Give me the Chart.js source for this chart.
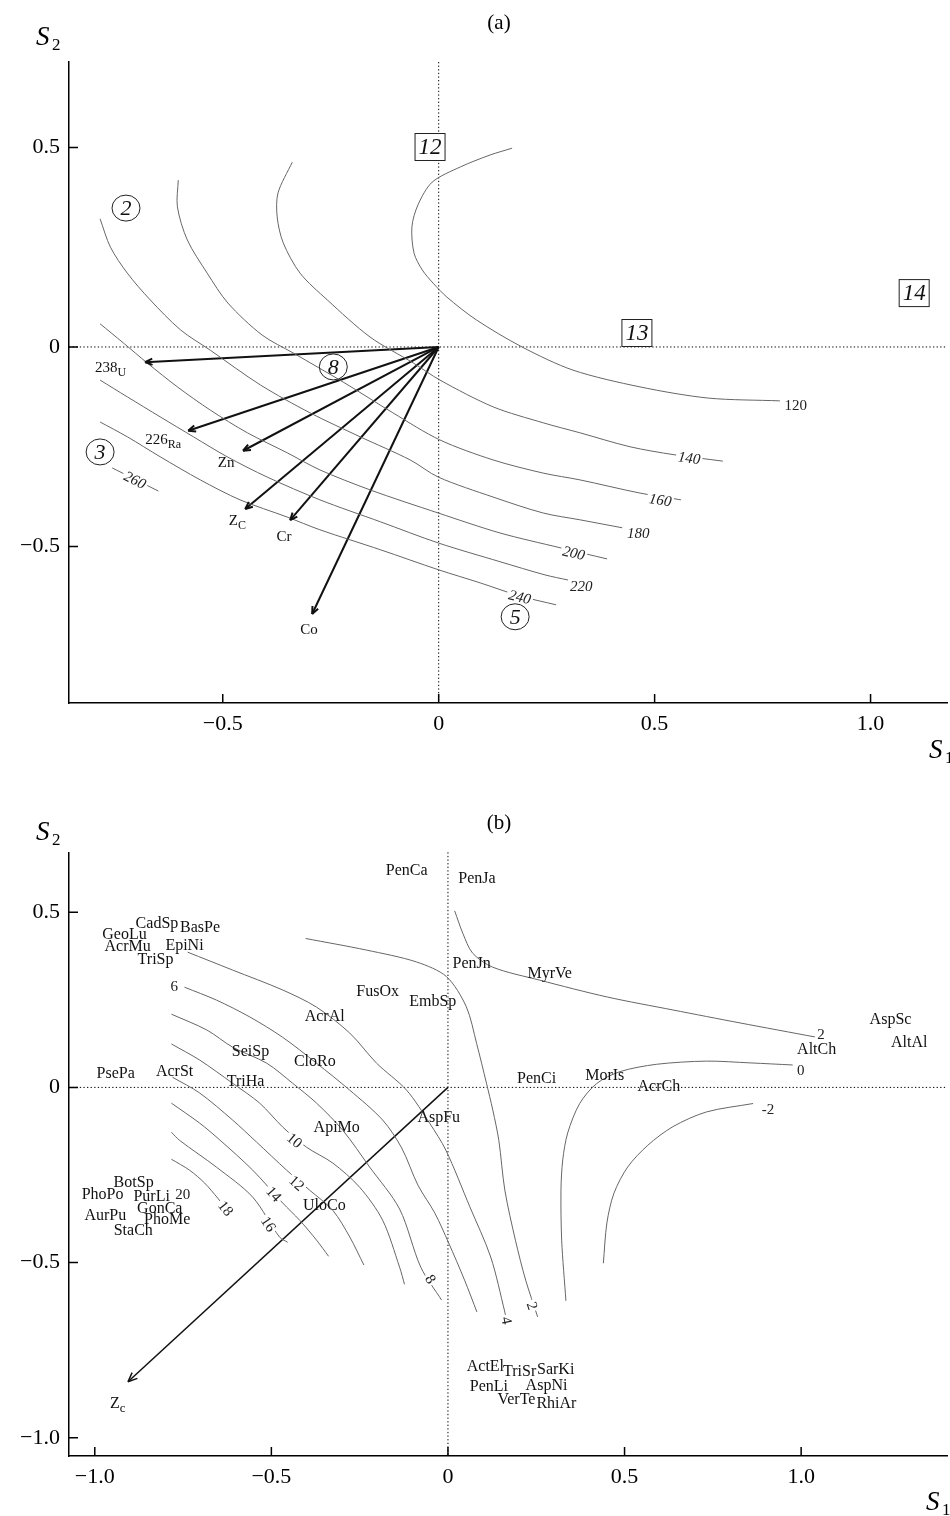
<!DOCTYPE html>
<html>
<head>
<meta charset="utf-8">
<script src="https://cdn.jsdelivr.net/npm/chart.js@4.4.0/dist/chart.umd.min.js"></script>
<style>
  body { margin: 0; background: #fff; width: 950px; height: 1516px; overflow: hidden; position: relative; }
  .wrap { position: absolute; left: 0; width: 950px; }
  #wa { top: 0; height: 780px; }
  #wb { top: 780px; height: 736px; }
</style>
</head>
<body>
<div class="wrap" id="wa"><canvas id="chartA"></canvas></div>
<div class="wrap" id="wb"><canvas id="chartB"></canvas></div>
<script>
// ---------- panel (a): S1/S2 plane, contour levels 120..260 ----------
const xTicksA = [-0.5, 0, 0.5, 1.0];
const xTickLabelsA = ['\u22120.5', '0', '0.5', '1.0'];
const yTicksA = [-0.5, 0, 0.5];
const yTickLabelsA = ['\u22120.5', '0', '0.5'];

const contoursA = [
  // 120
  [[0.170,0.498],[0.119,0.481],[0.050,0.451],[-0.015,0.413],[-0.048,0.356],[-0.062,0.301],[-0.057,0.235],[-0.038,0.193],[-0.013,0.160],[0.019,0.125],[0.087,0.068],[0.193,0.000],[0.311,-0.058],[0.466,-0.100],[0.624,-0.128],[0.790,-0.135]],
  // 140
  [[-0.339,0.463],[-0.372,0.386],[-0.374,0.326],[-0.360,0.261],[-0.321,0.185],[-0.258,0.118],[-0.159,0.025],[-0.059,-0.040],[0.003,-0.083],[0.126,-0.150],[0.242,-0.190],[0.327,-0.215],[0.443,-0.250],[0.545,-0.270],[0.658,-0.286]],
  // 160
  [[-0.603,0.418],[-0.605,0.351],[-0.582,0.268],[-0.536,0.185],[-0.488,0.110],[-0.409,0.030],[-0.337,-0.015],[-0.221,-0.088],[-0.106,-0.165],[0.003,-0.233],[0.126,-0.283],[0.242,-0.316],[0.327,-0.333],[0.466,-0.366],[0.561,-0.383]],
  // 180
  [[-0.784,0.321],[-0.760,0.250],[-0.721,0.185],[-0.668,0.118],[-0.598,0.043],[-0.529,-0.008],[-0.413,-0.095],[-0.298,-0.165],[-0.182,-0.225],[-0.066,-0.283],[-0.001,-0.326],[0.126,-0.376],[0.242,-0.416],[0.327,-0.433],[0.425,-0.453]],
  // 200
  [[-0.784,0.058],[-0.730,0.010],[-0.675,-0.040],[-0.605,-0.100],[-0.529,-0.158],[-0.443,-0.215],[-0.351,-0.265],[-0.275,-0.308],[-0.159,-0.358],[-0.001,-0.416],[0.142,-0.466],[0.281,-0.503],[0.390,-0.531]],
  // 220
  [[-0.784,-0.083],[-0.721,-0.125],[-0.645,-0.175],[-0.568,-0.225],[-0.490,-0.275],[-0.397,-0.326],[-0.275,-0.383],[-0.135,-0.438],[-0.001,-0.491],[0.142,-0.538],[0.246,-0.571],[0.300,-0.584]],
  // 240
  [[-0.784,-0.188],[-0.721,-0.225],[-0.645,-0.275],[-0.552,-0.333],[-0.460,-0.383],[-0.351,-0.426],[-0.275,-0.458],[-0.135,-0.508],[-0.001,-0.558],[0.096,-0.591],[0.188,-0.624],[0.272,-0.646]],
  // 260
  [[-0.756,-0.303],[-0.649,-0.361]]
];
const contourLabelTextA = ['120', '140', '160', '180', '200', '220', '240', '260'];
const contourLabelXA = [0.827, 0.580, 0.513, 0.462, 0.313, 0.330, 0.188, -0.703];
const contourLabelYA = [-0.145, -0.278, -0.383, -0.466, -0.516, -0.599, -0.626, -0.333];

const arrowTipsA = [[-0.680,-0.038],[-0.580,-0.210],[-0.453,-0.260],[-0.448,-0.406],[-0.344,-0.434],[-0.293,-0.669]];
const arrowNamesA = [['238','U'],['226','Ra'],['Zn',''],['Z','C'],['Cr',''],['Co','']];
const arrowLabelXA = [-0.760, -0.638, -0.492, -0.466, -0.358, -0.300];
const arrowLabelYA = [-0.053, -0.233, -0.291, -0.436, -0.476, -0.709];

const circledTextA = ['2', '8', '3', '5'];
const circledXA = [-0.724, -0.244, -0.784, 0.177];
const circledYA = [0.348, -0.050, -0.263, -0.676];
const boxedTextA = ['12', '13', '14'];
const boxedXA = [-0.020, 0.459, 1.101];
const boxedYA = [0.501, 0.035, 0.135];

// ---------- panel (b): species, contour levels -2..20 ----------
const xTicksB = [-1.0, -0.5, 0, 0.5, 1.0];
const xTickLabelsB = ['\u22121.0', '\u22120.5', '0', '0.5', '1.0'];
const yTicksB = [-1.0, -0.5, 0, 0.5];
const yTickLabelsB = ['\u22121.0', '\u22120.5', '0', '0.5'];

const contoursB = [
  // 2 (upper right)
  [[0.019,0.504],[0.042,0.440],[0.070,0.383],[0.127,0.343],[0.260,0.306],[0.451,0.258],[0.637,0.221],[0.827,0.184],[1.039,0.144]],
  // 2 (middle)
  [[-0.403,0.425],[-0.231,0.392],[-0.089,0.358],[-0.004,0.316],[0.052,0.230],[0.081,0.126],[0.109,0.012],[0.127,-0.065],[0.144,-0.151],[0.161,-0.293],[0.191,-0.436],[0.220,-0.550],[0.254,-0.655]],
  // 0
  [[0.976,0.064],[0.855,0.070],[0.732,0.075],[0.591,0.066],[0.487,0.045],[0.421,0.011],[0.373,-0.046],[0.339,-0.130],[0.325,-0.207],[0.320,-0.293],[0.322,-0.436],[0.334,-0.609]],
  // -2
  [[0.864,-0.046],[0.732,-0.070],[0.637,-0.112],[0.566,-0.165],[0.509,-0.227],[0.470,-0.302],[0.450,-0.387],[0.440,-0.502]],
  // 4
  [[-0.737,0.386],[-0.610,0.335],[-0.468,0.278],[-0.372,0.229],[-0.278,0.155],[-0.202,0.069],[-0.117,-0.008],[-0.052,-0.102],[-0.006,-0.179],[0.062,-0.341],[0.121,-0.484],[0.161,-0.641],[0.167,-0.671]],
  // 6
  [[-0.746,0.286],[-0.655,0.249],[-0.561,0.201],[-0.468,0.143],[-0.372,0.069],[-0.278,-0.008],[-0.185,-0.093],[-0.131,-0.173],[-0.085,-0.279],[-0.037,-0.359],[0.002,-0.444],[0.047,-0.550],[0.082,-0.641]],
  // 8
  [[-0.783,0.209],[-0.683,0.164],[-0.610,0.115],[-0.513,0.069],[-0.440,0.012],[-0.372,-0.045],[-0.298,-0.122],[-0.222,-0.227],[-0.137,-0.347],[-0.077,-0.513],[-0.018,-0.607]],
  // 10
  [[-0.783,0.124],[-0.703,0.078],[-0.610,0.012],[-0.533,-0.045],[-0.468,-0.113],[-0.400,-0.171],[-0.326,-0.216],[-0.250,-0.285],[-0.185,-0.379],[-0.137,-0.513],[-0.123,-0.562]],
  // 12
  [[-0.780,0.029],[-0.703,-0.016],[-0.610,-0.093],[-0.542,-0.156],[-0.457,-0.236],[-0.392,-0.293],[-0.326,-0.351],[-0.278,-0.427],[-0.238,-0.507]],
  // 14
  [[-0.783,-0.045],[-0.703,-0.102],[-0.646,-0.150],[-0.553,-0.236],[-0.468,-0.330],[-0.420,-0.379],[-0.372,-0.436],[-0.338,-0.482]],
  // 16
  [[-0.783,-0.128],[-0.760,-0.151],[-0.655,-0.228],[-0.553,-0.313],[-0.477,-0.427],[-0.454,-0.442]],
  // 18
  [[-0.783,-0.205],[-0.732,-0.236],[-0.689,-0.273],[-0.652,-0.316],[-0.618,-0.359]]
];
const contourLabelTextB = ['2', '2', '0', '-2', '4', '6', '8', '10', '12', '14', '16', '18', '20'];
const contourLabelXB = [1.056, 0.239, 0.999, 0.906, 0.167, -0.775, -0.049, -0.434, -0.428, -0.493, -0.508, -0.629, -0.751];
const contourLabelYB = [0.152, -0.623, 0.049, -0.062, -0.665, 0.288, -0.547, -0.151, -0.273, -0.304, -0.390, -0.345, -0.304];

const speciesNames = ['PenCa','PenJa','CadSp','BasPe','GeoLu','AcrMu','EpiNi','TriSp','PenJn','MyrVe','FusOx','EmbSp','AcrAl','SeiSp','CloRo','PsePa','AcrSt','TriHa','PenCi','MorIs','AcrCh','AspFu','ApiMo','AltCh','AspSc','AltAl','BotSp','PhoPo','PurLi','GonCa','AurPu','PhoMe','StaCh','UloCo','ActEl','TriSr','SarKi','PenLi','AspNi','VerTe','RhiAr'];
const speciesS1 = [-0.117,0.082,-0.824,-0.702,-0.916,-0.907,-0.746,-0.828,0.067,0.288,-0.199,-0.043,-0.349,-0.559,-0.377,-0.941,-0.774,-0.573,0.251,0.444,0.597,-0.026,-0.315,1.044,1.253,1.306,-0.890,-0.978,-0.839,-0.816,-0.970,-0.795,-0.891,-0.350,0.106,0.203,0.305,0.116,0.279,0.194,0.307];
const speciesS2 = [0.617,0.594,0.466,0.455,0.435,0.400,0.403,0.363,0.352,0.323,0.273,0.243,0.201,0.101,0.072,0.038,0.044,0.015,0.025,0.033,0.002,-0.088,-0.116,0.106,0.192,0.126,-0.272,-0.307,-0.313,-0.347,-0.366,-0.379,-0.410,-0.338,-0.798,-0.813,-0.807,-0.854,-0.852,-0.892,-0.904];

const arrowTipsB = [[-0.906,-0.840]];
const arrowNamesB = [['Z','c']];
const arrowLabelXB = [-0.935];
const arrowLabelYB = [-0.902];

// ---------- drawing helpers ----------
const SERIF = '"Liberation Serif", "DejaVu Serif", serif';

function drawSub(ctx, main, sub, cx, cy, size) {
  ctx.font = size + 'px ' + SERIF;
  const w1 = ctx.measureText(main).width;
  ctx.font = (size * 0.8) + 'px ' + SERIF;
  const w2 = sub ? ctx.measureText(sub).width : 0;
  const x = cx - (w1 + w2) / 2;
  ctx.textAlign = 'left';
  ctx.textBaseline = 'middle';
  ctx.font = size + 'px ' + SERIF;
  ctx.fillText(main, x, cy);
  if (sub) {
    ctx.font = (size * 0.8) + 'px ' + SERIF;
    ctx.fillText(sub, x + w1, cy + size * 0.3);
  }
}

function nearestSegment(lx, ly, lines) {
  let best = { d: Infinity, a: 0 };
  lines.forEach(pts => {
    for (let i = 0; i < pts.length - 1; i++) {
      const [x1, y1] = pts[i], [x2, y2] = pts[i + 1];
      const dx = x2 - x1, dy = y2 - y1, L = dx * dx + dy * dy || 1;
      let t = ((lx - x1) * dx + (ly - y1) * dy) / L;
      t = Math.max(0, Math.min(1, t));
      const d = Math.hypot(lx - (x1 + t * dx), ly - (y1 + t * dy));
      if (d < best.d) best = { d, a: Math.atan2(dy, dx) };
    }
  });
  return best;
}

function annot(cfg) {
  return {
    id: 'annot',
    beforeDatasetsDraw(chart) {
      const { ctx, chartArea: a, scales: { x, y } } = chart;
      const x0 = x.getPixelForValue(0), y0 = y.getPixelForValue(0);
      ctx.save();
      ctx.strokeStyle = '#000';
      ctx.lineWidth = 1;
      ctx.setLineDash([1.3, 2.3]);
      ctx.beginPath();
      ctx.moveTo(x0, a.top); ctx.lineTo(x0, a.bottom);
      ctx.moveTo(a.left, y0); ctx.lineTo(a.right, y0);
      ctx.stroke();
      ctx.restore();
    },
    afterDatasetsDraw(chart) {
      const { ctx, scales: { x, y } } = chart;
      const px = v => x.getPixelForValue(v), py = v => y.getPixelForValue(v);
      ctx.save();
      // arrow heads
      ctx.strokeStyle = '#111';
      ctx.lineWidth = cfg.arrowWidth;
      cfg.arrowTips.forEach(([tx, ty]) => {
        const x1 = px(0), y1 = py(0), x2 = px(tx), y2 = py(ty);
        const ang = Math.atan2(y2 - y1, x2 - x1);
        ctx.beginPath();
        [-1, 1].forEach(s => {
          ctx.moveTo(x2, y2);
          ctx.lineTo(x2 - cfg.headLen * Math.cos(ang + s * 0.4), y2 - cfg.headLen * Math.sin(ang + s * 0.4));
        });
        ctx.stroke();
      });
      ctx.fillStyle = '#111';
      cfg.arrowNames.forEach((n, i) => drawSub(ctx, n[0], n[1], px(cfg.arrowLabelX[i]), py(cfg.arrowLabelY[i]), cfg.nameSize));

      // contour level labels, rotated along the nearest line
      const pixLines = cfg.contours.map(c => c.map(([a, b]) => [px(a), py(b)]));
      cfg.levelText.forEach((t, i) => {
        const lx = px(cfg.levelX[i]), ly = py(cfg.levelY[i]);
        const near = nearestSegment(lx, ly, pixLines);
        let ang = near.d < 6 ? near.a : 0;
        if (ang > Math.PI / 2) ang -= Math.PI;
        if (ang < -Math.PI / 2) ang += Math.PI;
        ctx.save();
        ctx.translate(lx, ly);
        ctx.rotate(ang);
        const italic = cfg.levelItalic && t !== '120';
        ctx.font = (italic ? 'italic ' : '') + cfg.levelSize + 'px ' + SERIF;
        const w = ctx.measureText(t).width;
        ctx.fillStyle = '#fff';
        ctx.fillRect(-w / 2 - 2, -cfg.levelSize * 0.45, w + 4, cfg.levelSize * 0.9);
        ctx.fillStyle = '#222';
        ctx.textAlign = 'center';
        ctx.textBaseline = 'middle';
        ctx.fillText(t, 0, 1);
        ctx.restore();
      });

      // species names
      if (cfg.names) {
        ctx.fillStyle = '#111';
        ctx.font = '16px ' + SERIF;
        ctx.textAlign = 'center';
        ctx.textBaseline = 'middle';
        cfg.names.forEach((n, i) => ctx.fillText(n, px(cfg.namesX[i]), py(cfg.namesY[i])));
      }

      // circled and boxed markers
      ctx.strokeStyle = '#222';
      ctx.lineWidth = 1;
      ctx.textAlign = 'center';
      ctx.textBaseline = 'middle';
      (cfg.circled || []).forEach((t, i) => {
        const cx = px(cfg.circledX[i]), cy = py(cfg.circledY[i]);
        ctx.beginPath();
        ctx.ellipse(cx, cy, 14, 13, 0, 0, Math.PI * 2);
        ctx.stroke();
        ctx.font = 'italic 22px ' + SERIF;
        ctx.fillText(t, cx, cy + 1);
      });
      (cfg.boxed || []).forEach((t, i) => {
        const cx = px(cfg.boxedX[i]), cy = py(cfg.boxedY[i]);
        ctx.fillStyle = '#fff';
        ctx.fillRect(cx - 15, cy - 13.5, 30, 27);
        ctx.strokeRect(cx - 15, cy - 13.5, 30, 27);
        ctx.fillStyle = '#111';
        ctx.font = 'italic 23px ' + SERIF;
        ctx.fillText(t, cx, cy + 1);
      });
      ctx.restore();
    },
    afterDraw(chart) {
      const { ctx, chartArea: a, scales: { x, y } } = chart;
      ctx.save();
      ctx.strokeStyle = '#000';
      ctx.lineWidth = 1.5;
      ctx.beginPath();
      cfg.xTicks.forEach(v => { const p = x.getPixelForValue(v); ctx.moveTo(p, a.bottom); ctx.lineTo(p, a.bottom - 9); });
      cfg.yTicks.forEach(v => { const p = y.getPixelForValue(v); ctx.moveTo(a.left, p); ctx.lineTo(a.left + 9, p); });
      ctx.stroke();
      ctx.fillStyle = '#000';
      ctx.textBaseline = 'alphabetic';
      ctx.textAlign = 'center';
      ctx.font = '21px ' + SERIF;
      ctx.fillText(cfg.title, 499, cfg.titleY);
      ctx.textAlign = 'left';
      ctx.font = 'italic 27px ' + SERIF;
      ctx.fillText('S', 36, cfg.s2Y);
      ctx.font = '17px ' + SERIF;
      ctx.fillText('2', 52, cfg.s2Y + 5);
      ctx.font = 'italic 27px ' + SERIF;
      ctx.fillText('S', cfg.s1X, cfg.s1Y);
      ctx.font = '17px ' + SERIF;
      ctx.fillText('1', cfg.s1X + 16, cfg.s1Y + 5);
      ctx.restore();
    }
  };
}

function makeChart(id, cfg) {
  const datasets = [];
  cfg.contours.forEach(c => datasets.push({
    data: c.map(([a, b]) => ({ x: a, y: b })),
    showLine: true, borderColor: '#666', borderWidth: 1, pointRadius: 0, tension: 0.3
  }));
  cfg.arrowTips.forEach(([a, b]) => datasets.push({
    data: [{ x: 0, y: 0 }, { x: a, y: b }],
    showLine: true, borderColor: '#111', borderWidth: cfg.arrowWidth, pointRadius: 0, tension: 0
  }));
  const tickFont = { family: SERIF, size: 22 };
  return new Chart(document.getElementById(id), {
    type: 'scatter',
    data: { datasets },
    options: {
      responsive: true,
      maintainAspectRatio: false,
      animation: false,
      events: [],
      layout: { padding: { top: cfg.padTop, right: 3, left: 0, bottom: 0 } },
      plugins: { legend: { display: false }, tooltip: { enabled: false } },
      scales: {
        x: {
          type: 'linear', min: cfg.xMin, max: cfg.xMax,
          grid: { display: false, drawTicks: false },
          border: { display: true, color: '#000', width: 1.5 },
          afterBuildTicks: s => { s.ticks = cfg.xTicks.map(v => ({ value: v })); },
          afterFit: s => { s.height = cfg.xAxisH; },
          ticks: { autoSkip: false, maxRotation: 0, padding: 8, color: '#000', font: tickFont,
                   callback: (v, i) => cfg.xTickLabels[i] }
        },
        y: {
          type: 'linear', min: cfg.yMin, max: cfg.yMax,
          grid: { display: false, drawTicks: false },
          border: { display: true, color: '#000', width: 1.5 },
          afterBuildTicks: s => { s.ticks = cfg.yTicks.map(v => ({ value: v })); },
          afterFit: s => { s.width = 69; },
          ticks: { autoSkip: false, padding: 9, color: '#000', font: tickFont,
                   callback: (v, i) => cfg.yTickLabels[i] }
        }
      }
    },
    plugins: [annot(cfg)]
  });
}

makeChart('chartA', {
  xMin: -0.856, xMax: 1.177, yMin: -0.892, yMax: 0.714,
  padTop: 62, xAxisH: 77,
  xTicks: xTicksA, xTickLabels: xTickLabelsA, yTicks: yTicksA, yTickLabels: yTickLabelsA,
  contours: contoursA, levelText: contourLabelTextA, levelX: contourLabelXA, levelY: contourLabelYA,
  levelSize: 15, levelItalic: true,
  arrowTips: arrowTipsA, arrowNames: arrowNamesA, arrowLabelX: arrowLabelXA, arrowLabelY: arrowLabelYA,
  arrowWidth: 2, headLen: 8, nameSize: 15,
  circled: circledTextA, circledX: circledXA, circledY: circledYA,
  boxed: boxedTextA, boxedX: boxedXA, boxedY: boxedYA,
  title: '(a)', titleY: 29, s2Y: 45, s1X: 929, s1Y: 758
});

makeChart('chartB', {
  xMin: -1.073, xMax: 1.413, yMin: -1.052, yMax: 0.671,
  padTop: 72.3, xAxisH: 60,
  xTicks: xTicksB, xTickLabels: xTickLabelsB, yTicks: yTicksB, yTickLabels: yTickLabelsB,
  contours: contoursB, levelText: contourLabelTextB, levelX: contourLabelXB, levelY: contourLabelYB,
  levelSize: 15, levelItalic: false,
  arrowTips: arrowTipsB, arrowNames: arrowNamesB, arrowLabelX: arrowLabelXB, arrowLabelY: arrowLabelYB,
  arrowWidth: 1.5, headLen: 10, nameSize: 16,
  names: speciesNames, namesX: speciesS1, namesY: speciesS2,
  title: '(b)', titleY: 49, s2Y: 60, s1X: 926, s1Y: 730
});
</script>
</body>
</html>
